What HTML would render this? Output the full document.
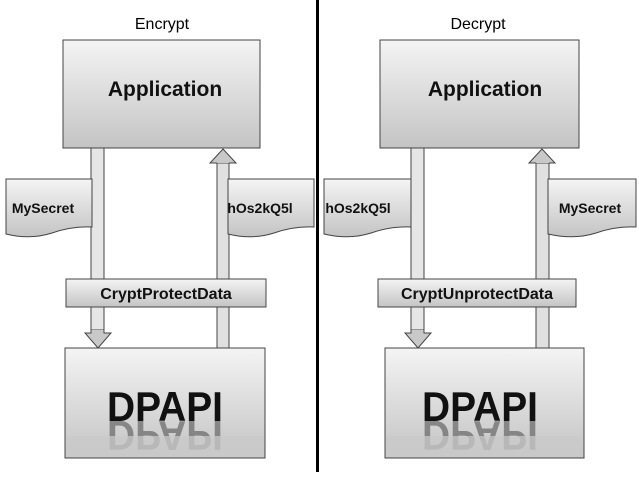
<!DOCTYPE html>
<html><head><style>body{margin:0;background:#fff}svg{display:block}</style></head><body>
<svg width="639" height="480" viewBox="0 0 639 480" xmlns="http://www.w3.org/2000/svg" font-family="Liberation Sans, sans-serif">
<defs>
<linearGradient id="g" x1="0" y1="0" x2="0" y2="1"><stop offset="0" stop-color="#f4f4f4"/><stop offset="1" stop-color="#c4c4c4"/></linearGradient>
<linearGradient id="rf" x1="0" y1="0" x2="0" y2="1"><stop offset="0" stop-color="#000" stop-opacity="0.45"/><stop offset="1" stop-color="#000" stop-opacity="0"/></linearGradient>
</defs>
<rect x="316" y="0" width="3" height="472" fill="#000"/>
<text x="162" y="29" font-size="16" text-anchor="middle">Encrypt</text>
<text x="478" y="29" font-size="16" text-anchor="middle">Decrypt</text>
<g stroke="#444" stroke-width="1">
<rect x="91" y="148" width="13" height="182" fill="#e6e6e6"/>
<path d="M91 330 L91 333 L85 333 L98 348 L111 333 L104 333 L104 330" fill="#c8c8c8"/>
<rect x="217" y="163" width="12" height="185" fill="#e0e0e0"/>
<path d="M217 163 L210 163 L223 149 L236 163 L229 163" fill="#c8c8c8"/>
<rect x="63" y="40" width="197" height="108" fill="url(#g)"/>
<path d="M6 179 H92 V227 Q72 226 52 233 Q30 240 6 234 Z" fill="url(#g)"/>
<path d="M228 179 H314 V227 Q294 226 274 233 Q252 240 228 234 Z" fill="url(#g)"/>
<rect x="66" y="279" width="200" height="28" fill="url(#g)"/>
<rect x="65" y="348" width="200" height="110" fill="url(#g)"/>
<rect x="411" y="148" width="13" height="182" fill="#e6e6e6"/>
<path d="M411 330 L411 333 L405 333 L418 348 L431 333 L424 333 L424 330" fill="#c8c8c8"/>
<rect x="536" y="163" width="13" height="185" fill="#e0e0e0"/>
<path d="M536 163 L529 163 L542 149 L555 163 L549 163" fill="#c8c8c8"/>
<rect x="380" y="40" width="199" height="108" fill="url(#g)"/>
<path d="M324 179 H411 V227 Q391 226 371 233 Q349 240 324 234 Z" fill="url(#g)"/>
<path d="M548 179 H636 V227 Q616 226 596 233 Q574 240 548 234 Z" fill="url(#g)"/>
<rect x="378" y="279" width="198" height="28" fill="url(#g)"/>
<rect x="385" y="348" width="199" height="110" fill="url(#g)"/>
</g>
<g font-weight="bold" text-anchor="middle" fill="#111">
<text x="165" y="96" font-size="21">Application</text>
<text x="485" y="96" font-size="21">Application</text>
<text x="43" y="213" font-size="14">MySecret</text>
<text x="260" y="213" font-size="14">hOs2kQ5l</text>
<text x="358" y="213" font-size="14">hOs2kQ5l</text>
<text x="590" y="213" font-size="14">MySecret</text>
<text x="166" y="299" font-size="16">CryptProtectData</text>
<text x="477" y="299" font-size="16">CryptUnprotectData</text>
<text x="165" y="421" font-size="42" textLength="116" lengthAdjust="spacingAndGlyphs">DPAPI</text>
<text x="480" y="421" font-size="42" textLength="116" lengthAdjust="spacingAndGlyphs">DPAPI</text>
<g transform="translate(0,842) scale(1,-1)" opacity="0.6">
<text x="165" y="421" font-size="42" textLength="116" lengthAdjust="spacingAndGlyphs" fill="#555">DPAPI</text>
<text x="480" y="421" font-size="42" textLength="116" lengthAdjust="spacingAndGlyphs" fill="#555">DPAPI</text>
</g>
</g>
<rect x="66" y="436" width="198" height="21" fill="#cacaca" opacity="0.75"/>
<rect x="386" y="436" width="197" height="21" fill="#cacaca" opacity="0.75"/>
</svg>
</body></html>
